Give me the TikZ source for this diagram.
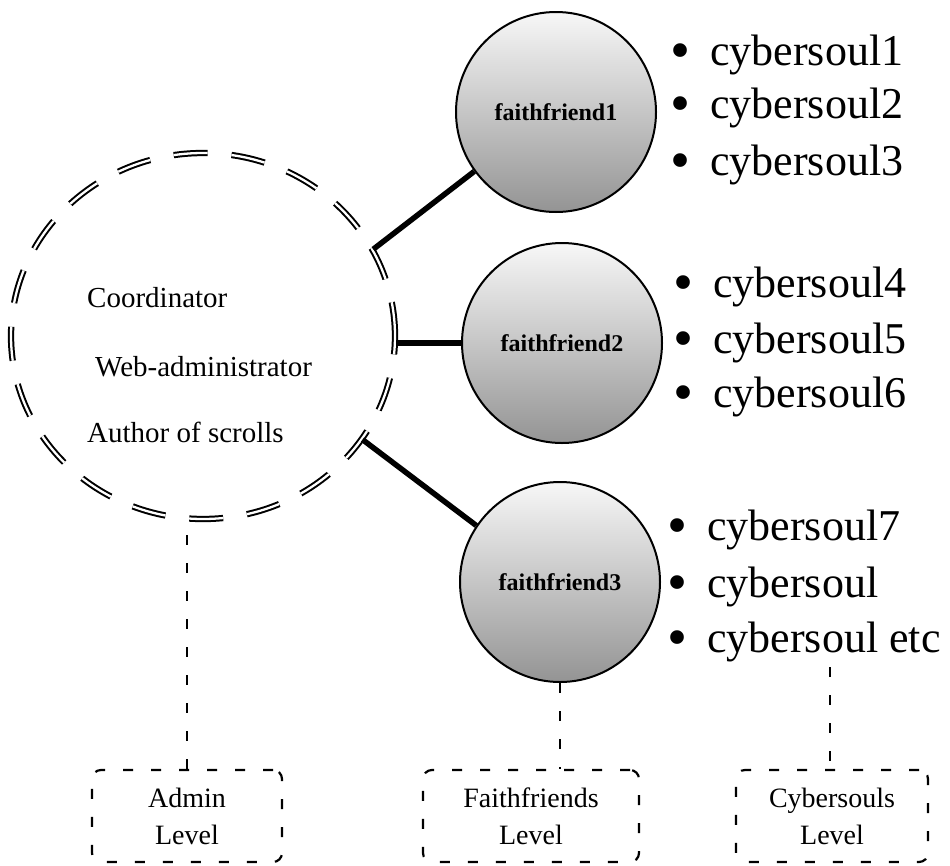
\documentclass[tikz,border=0pt]{standalone}
\usepackage{fontspec}
\setmainfont{Liberation Serif}
\usetikzlibrary{shapes.geometric}
\begin{document}
\begin{tikzpicture}[x=1pt,y=-1pt,
  bigring/.style={ellipse, draw, double=white, double distance=2.3pt, line width=2pt,
    dash pattern=on 34pt off 24pt, minimum width=384pt, minimum height=366pt, inner sep=0pt},
  ffcircle/.style={circle, draw, line width=2pt, minimum size=200pt, inner sep=0pt,
    top color=black!3, middle color=black!22, bottom color=black!42,
    font=\fontsize{24}{28}\selectfont\bfseries},
  roletext/.style={anchor=west, inner sep=0pt, font=\fontsize{29}{34}\selectfont},
  soulitem/.style={anchor=base west, inner sep=0pt, font=\fontsize{44}{53}\selectfont},
  levelbox/.style={draw, rounded corners=9pt, line width=2.2pt, dash pattern=on 10pt off 18pt,
    minimum height=92pt, inner sep=0pt, align=center, font=\fontsize{28}{37}\selectfont},
  link/.style={line width=5.5pt},
  tie/.style={line width=2.2pt, dash pattern=on 10pt off 18pt}
]
\useasboundingbox (0,0) rectangle (950,865);
\newcommand{\soulbullet}{\makebox[15.4pt]{\raisebox{-4pt}[0pt][0pt]{\scalebox{1.3}{\textbullet}}}\hspace{21.6pt}}

% admin ring
\node[bigring] (big) at (203,336) {};
\node[roletext] (coord) at (87,298) {Coordinator};
\node[roletext] (webadm) at (95,367) {Web-administrator};
\node[roletext] (author) at (87,432) {Author of scrolls};

% faithfriends
\node[ffcircle] (ff1) at (556,112) {faithfriend1};
\node[ffcircle] (ff2) at (562,343) {faithfriend2};
\node[ffcircle] (ff3) at (560,582) {faithfriend3};

% cybersoul lists
\node[soulitem] (c1) at (673,65)  {\soulbullet cybersoul1};
\node[soulitem] (c2) at (673,118) {\soulbullet cybersoul2};
\node[soulitem] (c3) at (673,175) {\soulbullet cybersoul3};
\node[soulitem] (c4) at (676,297) {\soulbullet cybersoul4};
\node[soulitem] (c5) at (676,353) {\soulbullet cybersoul5};
\node[soulitem] (c6) at (676,407) {\soulbullet cybersoul6};
\node[soulitem] (c7) at (670,540) {\soulbullet cybersoul7};
\node[soulitem] (c8) at (670,597) {\soulbullet cybersoul};
\node[soulitem] (c9) at (670,652) {\soulbullet cybersoul etc};
\coordinate (csend) at (830,667);

% level boxes
\node[levelbox, minimum width=190pt] (adminbox) at (187,816) {Admin\\Level};
\node[levelbox, minimum width=216pt] (ffbox) at (531,816) {Faithfriends\\Level};
\node[levelbox, minimum width=192pt] (csbox) at (832,816) {Cybersouls\\Level};

% solid links
\draw[link] (big.27) -- (ff1.216);
\draw[link] (ff2.west -| big.east) -- (ff2.west);
\draw[link] (big.-33) -- (ff3.146);

% dashed ties to levels
\draw[tie] (adminbox.north) -- (adminbox.north |- big.south);
\draw[tie] (ff3.south) -- (ff3.south |- ffbox.north);
\draw[tie] (csend) -- (csend |- csbox.north);
\end{tikzpicture}
\end{document}
